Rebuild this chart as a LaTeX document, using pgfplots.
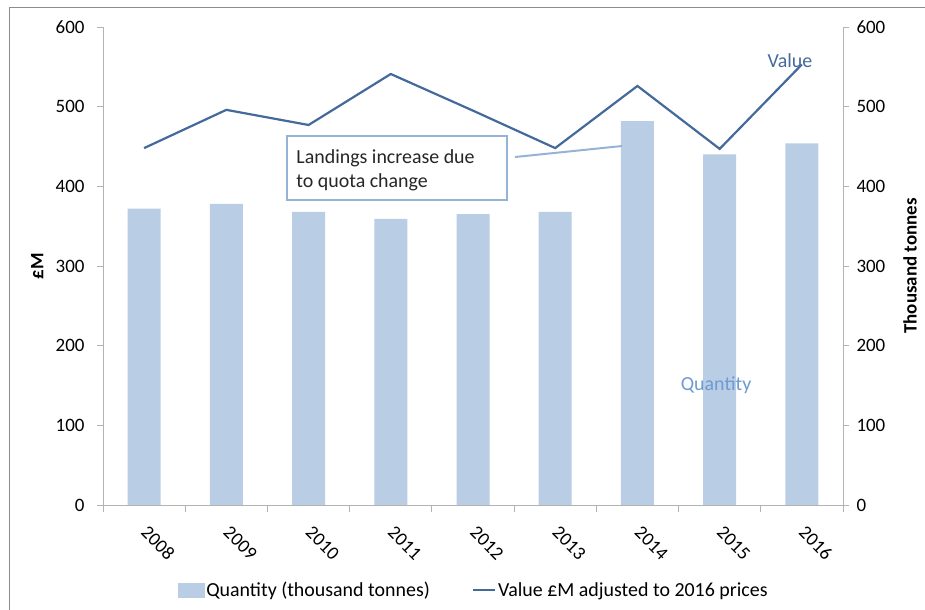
\documentclass[border=0pt]{standalone}
\usepackage{pgfplots}
\pgfplotsset{compat=1.18}
\usepackage{fontspec}
\setmainfont{Carlito}

\definecolor{barc}{HTML}{B9CDE5}
\definecolor{linec}{HTML}{44699B}
\definecolor{qtyc}{HTML}{6C9BD2}
\definecolor{annc}{HTML}{95B3D7}
\definecolor{axisc}{HTML}{B3B3B3}
\definecolor{framec}{HTML}{8C8C8C}

% Landed quantity (thousand tonnes) and value (GBP million, 2016 prices)
\pgfplotstableread{
idx year qty value
0 2008 372 448
1 2009 378 496
2 2010 368 477
3 2011 359 541
4 2012 365 495
5 2013 368 448
6 2014 482 526
7 2015 440 447
8 2016 454 553
}\landings

\begin{document}
\begin{tikzpicture}
\path[use as bounding box] (0,0) rectangle (925bp,610bp);
\draw[framec, line width=1bp] (9.5bp,0) -- (9.5bp,602.5bp) -- (925bp,602.5bp);

\pgfplotsset{
  basestyle/.style={
    scale only axis, width=740bp, height=478bp,
    at={(103bp,105bp)}, anchor=south west,
    xmin=-0.5, xmax=8.5, ymin=0, ymax=600,
    ytick={0,100,...,600},
    tick label style={font=\fontsize{19}{22}\selectfont, text=black},
    /pgf/number format/assume math mode=true,
    axis line style={axisc, line width=0.8bp},
    tick style={axisc, line width=0.8bp},
    tick align=outside, major tick length=6bp,
    label style={font=\fontsize{19}{22}\selectfont\bfseries},
  }
}

% Quantity bars against the right-hand axis
\begin{axis}[basestyle,
  axis y line*=right, axis x line*=bottom,
  ybar, bar width=33bp, bar shift=0pt,
  xtick={0,...,8},
  xticklabels={2008,2009,2010,2011,2012,2013,2014,2015,2016},
  major x tick style={draw=none},
  minor xtick={-0.5,0.5,...,8.5},
  minor tick length=7bp,
  xticklabel style={anchor=center, xshift=14bp, yshift=-32bp, rotate=-45},
  yticklabel style={xshift=4bp},
  ylabel={Thousand tonnes},
  ylabel style={at={(axis description cs:1.0905,0.5)}, anchor=center, rotate=0},
]
\addplot[fill=barc, draw=none] table[x=idx, y=qty] {\landings};
\node[text=qtyc, font=\fontsize{20}{24}\selectfont] at (axis cs:6.956,150) {Quantity};
\end{axis}

% Value line against the left-hand axis
\begin{axis}[basestyle,
  axis y line*=left, axis x line=none,
  yticklabel style={xshift=-9bp},
  ylabel={£M},
  ylabel style={at={(axis description cs:-0.089,0.5)}, anchor=center},
  legend style={at={(axis description cs:0.501,-0.178)}, anchor=center,
    draw=none, fill=none, legend columns=2,
    font=\fontsize{20}{24}\selectfont,
    /tikz/every even column/.append style={column sep=40bp}},
]
\addlegendimage{legend image code/.code={\fill[barc] (0bp,-7bp) rectangle (26bp,7bp);}}
\addlegendentry{Quantity (thousand tonnes)}
\addlegendimage{legend image code/.code={\draw[linec, line width=2.2bp] (0bp,0bp) -- (22bp,0bp);}}
\addlegendentry{Value £M adjusted to 2016 prices}
\addplot[linec, line width=2.2bp, forget plot] table[x=idx, y=value] {\landings};
\node[text=linec, font=\fontsize{20}{24}\selectfont] at (axis cs:7.855,558) {Value};
% callout
\draw[annc, line width=2bp] (axis cs:4.511,436.8) -- (axis cs:5.812,450.6);
\draw[annc, line width=1.6bp, fill=white] (axis cs:1.738,382.8) rectangle (axis cs:4.414,463);
\node[anchor=north west, align=left, inner sep=0pt, text=black!85,
      font=\fontsize{20}{24}\selectfont] at (axis cs:1.85,446) {Landings increase due\\to quota change};
\end{axis}
\end{tikzpicture}
\end{document}
